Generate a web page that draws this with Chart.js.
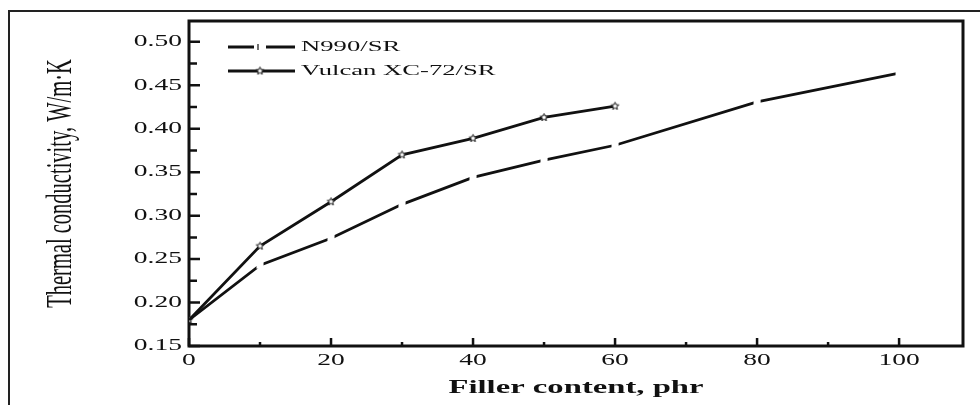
<!DOCTYPE html>
<html>
<head>
<meta charset="utf-8">
<script src="https://cdn.jsdelivr.net/npm/chart.js@4.4.1/dist/chart.umd.min.js"></script>
<style>
  html, body { margin: 0; padding: 0; background: #fff; }
  #wrap { position: relative; width: 980px; height: 405px; overflow: hidden; }
  #frame { position: absolute; left: 8px; top: 10px; width: 1000px; height: 420px; border: 2px solid #222; pointer-events: none; }
  canvas { position: absolute; left: 0; top: 0; }
</style>
</head>
<body>
<div id="wrap">
  <canvas id="chart" width="980" height="405"></canvas>
  <div id="frame"></div>
</div>
<script>
// filler loading (phr) and thermal conductivity (W/m·K)
var n990Filler = [0, 10, 20, 30, 40, 50, 60, 80, 100];
var n990Values = [0.180, 0.243, 0.274, 0.313, 0.344, 0.364, 0.381, 0.431, 0.464];
var vulcanFiller = [0, 10, 20, 30, 40, 50, 60];
var vulcanValues = [0.180, 0.265, 0.316, 0.370, 0.389, 0.413, 0.426];

// axis ticks
var xTicks = [0, 20, 40, 60, 80, 100];
var xMinorTicks = [10, 30, 50, 70, 90];
var yTicks = [0.15, 0.20, 0.25, 0.30, 0.35, 0.40, 0.45, 0.50];
var yMinorTicks = [0.175, 0.225, 0.275, 0.325, 0.375, 0.425, 0.475];

var legendLabels = ['N990/SR', 'Vulcan XC-72/SR'];

var SERIF = '"Liberation Serif", "Times New Roman", serif';
var INK = '#111';
// the scanned figure is stretched sideways, so every text is widened the same way
var TEXT_STRETCH = 1.72;

var canvas = document.getElementById('chart');
var ctx = canvas.getContext('2d');
var rawFillText = ctx.fillText;
ctx.fillText = function(text, x, y, maxWidth) {
  var m = this.getTransform();
  var p = m.transformPoint(new DOMPoint(x, y));
  this.save();
  this.setTransform(new DOMMatrix().translate(p.x, p.y).scale(TEXT_STRETCH, 1).translate(-p.x, -p.y).multiply(m));
  if (maxWidth === undefined) {
    rawFillText.call(this, text, x, y);
  } else {
    rawFillText.call(this, text, x, y, maxWidth);
  }
  this.restore();
};

// small open star used as marker for the Vulcan series
function makeStar(r) {
  var c = document.createElement('canvas');
  var s = Math.ceil(r * 2 + 3);
  c.width = s;
  c.height = s;
  var g = c.getContext('2d');
  g.beginPath();
  for (var i = 0; i < 10; i++) {
    var rad = i % 2 ? r * 0.45 : r;
    var a = -Math.PI / 2 + i * Math.PI / 5;
    g.lineTo(s / 2 + rad * Math.cos(a), s / 2 + rad * Math.sin(a));
  }
  g.closePath();
  g.fillStyle = '#fff';
  g.fill();
  g.lineWidth = 1;
  g.strokeStyle = INK;
  g.stroke();
  return c;
}
var starMarker = makeStar(4);

function toPoints(xs, ys) {
  return xs.map(function(x, i) { return {x: x, y: ys[i]}; });
}

// box around the plot with inward tick marks
var axisFrame = {
  id: 'axisFrame',
  beforeDatasetsDraw: function(chart) {
    var c = chart.ctx, a = chart.chartArea, sx = chart.scales.x, sy = chart.scales.y;
    c.save();
    c.strokeStyle = INK;
    c.lineWidth = 3;
    c.strokeRect(a.left, a.top, a.right - a.left, a.bottom - a.top);
    c.lineWidth = 2.5;
    c.beginPath();
    yTicks.forEach(function(v) {
      var p = sy.getPixelForValue(v);
      c.moveTo(a.left, p); c.lineTo(a.left + 11, p);
    });
    yMinorTicks.forEach(function(v) {
      var p = sy.getPixelForValue(v);
      c.moveTo(a.left, p); c.lineTo(a.left + 8, p);
    });
    xTicks.forEach(function(v) {
      var p = sx.getPixelForValue(v);
      c.moveTo(p, a.bottom); c.lineTo(p, a.bottom - 8);
    });
    xMinorTicks.forEach(function(v) {
      var p = sx.getPixelForValue(v);
      c.moveTo(p, a.bottom); c.lineTo(p, a.bottom - 4);
    });
    c.stroke();
    c.restore();
  }
};

// legend drawn inside the plot, top left
var insideLegend = {
  id: 'insideLegend',
  afterDraw: function(chart) {
    var c = chart.ctx, a = chart.chartArea;
    var x0 = a.left + 39, x1 = a.left + 106;
    var rows = [a.top + 26, a.top + 50];
    c.save();
    c.strokeStyle = INK;
    c.lineWidth = 2.8;
    c.beginPath();
    c.moveTo(x0, rows[0]); c.lineTo(x0 + 26, rows[0]);
    c.moveTo(x0 + 38, rows[0]); c.lineTo(x1, rows[0]);
    c.moveTo(x0, rows[1]); c.lineTo(x1, rows[1]);
    c.stroke();
    c.lineWidth = 1.2;
    c.beginPath();
    c.moveTo(x0 + 30, rows[0] - 3); c.lineTo(x0 + 30, rows[0] + 3);
    c.stroke();
    c.drawImage(starMarker, x0 + 32 - starMarker.width / 2, rows[1] - starMarker.height / 2);
    c.font = '15.5px ' + SERIF;
    c.fillStyle = INK;
    c.textAlign = 'left';
    c.textBaseline = 'middle';
    c.fillText(legendLabels[0], x1 + 6, rows[0]);
    c.fillText(legendLabels[1], x1 + 6, rows[1]);
    c.restore();
  }
};

new Chart(canvas, {
  type: 'line',
  data: {
    datasets: [
      {
        label: legendLabels[0],
        data: toPoints(n990Filler, n990Values),
        borderColor: INK,
        borderWidth: 2.8,
        tension: 0,
        // white squares leave the small gaps seen at each data point
        pointStyle: 'rect',
        pointRadius: [0, 5, 5, 5, 5, 5, 5, 5, 5],
        pointBackgroundColor: '#fff',
        pointBorderWidth: 0
      }, {
        label: legendLabels[1],
        data: toPoints(vulcanFiller, vulcanValues),
        borderColor: INK,
        borderWidth: 2.8,
        tension: 0,
        pointStyle: starMarker,
        pointRadius: 4
      }
    ]
  },
  options: {
    responsive: false,
    animation: false,
    devicePixelRatio: 1,
    layout: { padding: { left: 0, top: 21, right: 17, bottom: 0 } },
    plugins: {
      legend: { display: false },
      tooltip: { enabled: false }
    },
    scales: {
      x: {
        type: 'linear',
        min: 0,
        max: 109,
        afterBuildTicks: function(scale) {
          scale.ticks = xTicks.map(function(v) { return {value: v}; });
        },
        afterFit: function(scale) { scale.height = 59; },
        grid: { display: false, drawTicks: false },
        border: { display: false },
        ticks: {
          color: INK,
          padding: 5,
          maxRotation: 0,
          autoSkip: false,
          font: { family: SERIF, size: 16 },
          callback: function(value) { return String(value); }
        },
        title: {
          display: true,
          text: 'Filler content, phr',
          color: INK,
          font: { family: SERIF, size: 19, weight: 'bold' },
          padding: { top: 0, bottom: 6 }
        }
      },
      y: {
        type: 'linear',
        min: 0.15,
        max: 0.524,
        afterBuildTicks: function(scale) {
          scale.ticks = yTicks.map(function(v) { return {value: v}; });
        },
        afterFit: function(scale) { scale.width = 189; },
        grid: { display: false, drawTicks: false },
        border: { display: false },
        ticks: {
          color: INK,
          padding: 7,
          autoSkip: false,
          font: { family: SERIF, size: 16 },
          callback: function(value) { return value.toFixed(2); }
        },
        title: {
          display: true,
          text: 'Thermal conductivity, W/m·K',
          color: INK,
          font: { family: SERIF, size: 20.5 },
          padding: { top: 49, bottom: 0 }
        }
      }
    }
  },
  plugins: [axisFrame, insideLegend]
});
</script>
</body>
</html>
